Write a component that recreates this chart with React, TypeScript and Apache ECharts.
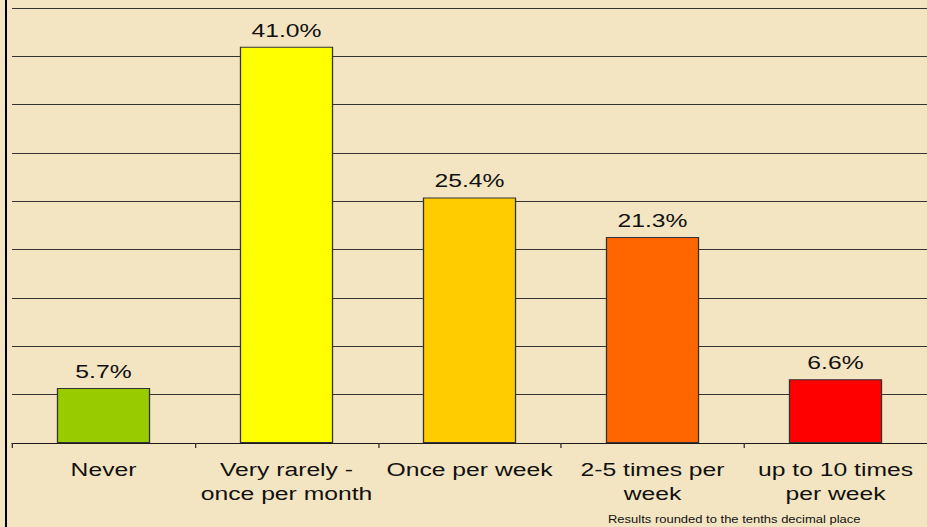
import React, { useEffect, useRef } from "react";
import * as echarts from "echarts";

// Survey answers and their shares (%)
const categories = [
  "Never",
  "Very rarely -\nonce per month",
  "Once per week",
  "2-5 times per\nweek",
  "up to 10 times\nper week",
];
const shares = [5.7, 41.0, 25.4, 21.3, 6.6];
const barColors = ["#99CC00", "#FFFF00", "#FFCC00", "#FF6600", "#FF0000"];
const yTicks = { min: 0, max: 45, interval: 5 };
const footnote = "Results rounded to the tenths decimal place";

// The drawing is laid out narrow and widened horizontally on the page
const STRETCH = 1.3;
const PAGE_W = 927;
const PAGE_H = 527;
const CHART_W = PAGE_W / STRETCH;

const FONT = "'Liberation Sans', Arial, Helvetica, sans-serif";

export default function App() {
  const ref = useRef<HTMLDivElement>(null);

  useEffect(() => {
    if (!ref.current) return;
    const chart = echarts.init(ref.current, null, {
      renderer: "svg",
      width: CHART_W,
      height: PAGE_H,
    });
    const catW = 184.5 / STRETCH;
    const gridLeft = 12 / STRETCH;
    const gridWidth = catW * categories.length;

    chart.setOption({
      animation: false,
      backgroundColor: "#F4E5C2",
      grid: {
        left: gridLeft,
        top: 8,
        width: gridWidth,
        height: 435,
        containLabel: false,
      },
      xAxis: {
        type: "category",
        data: categories,
        axisLine: { show: true, lineStyle: { color: "#1a1a1a", width: 1 } },
        axisTick: { show: true, length: 5, lineStyle: { color: "#333" } },
        axisLabel: {
          interval: 0,
          color: "#111",
          fontFamily: FONT,
          fontSize: 19,
          lineHeight: 24,
          margin: 15,
        },
      },
      yAxis: {
        type: "value",
        min: yTicks.min,
        max: yTicks.max,
        interval: yTicks.interval,
        axisLine: { show: false },
        axisTick: { show: false },
        axisLabel: { show: false },
        splitLine: {
          show: true,
          lineStyle: { color: "#333333", width: 1.2, type: "solid" },
        },
      },
      series: [
        {
          type: "bar",
          barWidth: "51%",
          data: shares.map((v, i) => ({
            value: v,
            itemStyle: { color: barColors[i] },
          })),
          itemStyle: { borderColor: "#333", borderWidth: 1 },
          label: {
            show: true,
            position: "top",
            distance: 7,
            color: "#111",
            fontFamily: FONT,
            fontSize: 19,
            formatter: (p: any) => `${Number(p.value).toFixed(1)}%`,
          },
        },
      ],
      graphic: [
        {
          type: "line",
          shape: { x1: 6 / STRETCH, y1: 0, x2: 6 / STRETCH, y2: PAGE_H },
          style: { stroke: "#000", lineWidth: 2 / STRETCH },
          z: 10,
        },
        {
          type: "text",
          left: 608 / STRETCH,
          top: 515,
          style: {
            text: footnote,
            fill: "#111",
            font: `10px ${FONT}`,
          },
        },
      ],
    });
    return () => chart.dispose();
  }, []);

  return (
    <div
      style={{
        position: "fixed",
        left: 0,
        top: 0,
        width: PAGE_W,
        height: PAGE_H,
        overflow: "hidden",
        background: "#F4E5C2",
      }}
    >
      <div
        ref={ref}
        style={{
          width: CHART_W,
          height: PAGE_H,
          transform: `scaleX(${STRETCH})`,
          transformOrigin: "0 0",
        }}
      />
    </div>
  );
}
